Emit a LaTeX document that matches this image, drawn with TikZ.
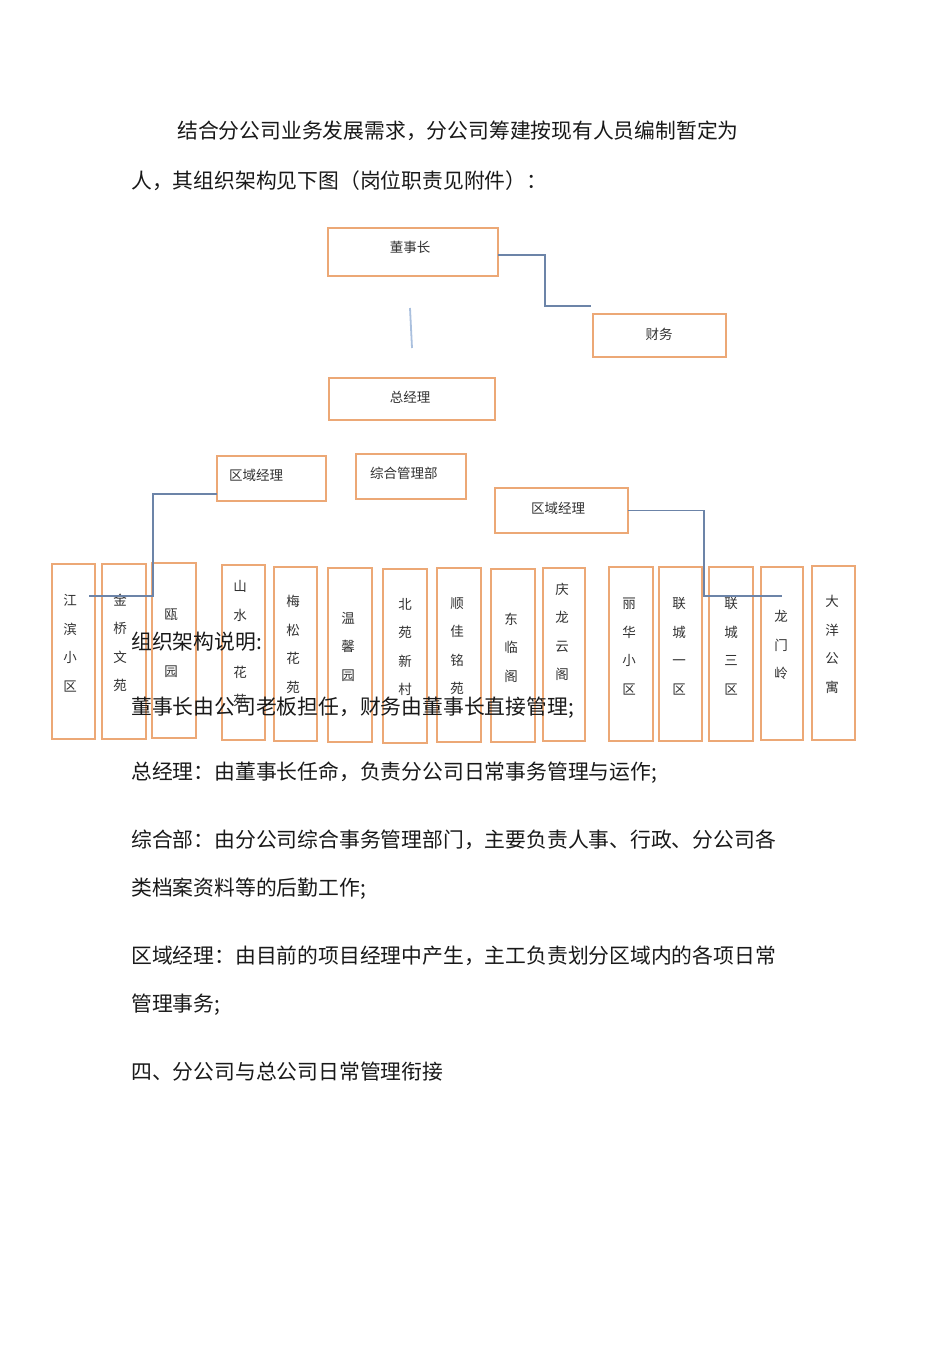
\documentclass[tikz,border=0pt]{standalone}
\usepackage{fontspec}
\newfontfamily\cjk{Noto Sans CJK SC}
\definecolor{boxor}{RGB}{236,168,118}
\definecolor{conn}{RGB}{108,132,168}
\definecolor{connlt}{RGB}{170,192,222}
\definecolor{txt}{RGB}{25,25,25}
\definecolor{btxt}{RGB}{50,50,50}
\newcommand\obx[5]{\node[obox, anchor=north west, minimum width={(#4-#2)*1pt}, minimum height={(#5-#3)*1pt}] (#1) at (#2,#3) {};}
\begin{document}
\begin{tikzpicture}[x=1pt,y=-1pt,
 obox/.style={draw=boxor, line width=1.3pt, inner sep=0pt, outer sep=0pt},
 para/.style={anchor=west, inner sep=0pt, font=\cjk\fontsize{20.8}{20.8}\selectfont, text=txt},
 blabel/.style={inner sep=0pt, font=\cjk\fontsize{13.5}{13.5}\selectfont, text=btxt},
 vlabel/.style={inner sep=0pt, align=center, font=\cjk\fontsize{13.5}{28.5}\selectfont, text=btxt},
 link/.style={draw=conn, line width=1.8pt},
 linklt/.style={draw=connlt, line width=1.8pt},
]
\useasboundingbox[fill=white] (0,0) rectangle (950,1345);

% top boxes
\obx{chair}{328}{228}{498}{276}
\node[blabel] (chairt) at (410,247) {董事长};
\obx{fin}{593}{314}{726}{357}
\node[blabel] (fint) at (659,334) {财务};
\obx{gm}{329}{378}{495}{420}
\node[blabel] (gmt) at (410,397) {总经理};
\obx{rm1}{217}{456}{326}{501}
\node[blabel, anchor=west] (rm1t) at (229,475) {区域经理};
\obx{adm}{356}{454}{466}{499}
\node[blabel, anchor=west] (admt) at (370,473) {综合管理部};
\obx{rm2}{495}{488}{628}{533}
\node[blabel] (rm2t) at (558,508) {区域经理};

% vertical boxes
\obx{jb}{52}{564}{95}{739}
\node[vlabel] (jbt) at (70,643) {江\\滨\\小\\区};
\obx{jq}{102}{564}{146}{739}
\node[vlabel] (jqt) at (120,643) {金\\桥\\文\\苑};
\obx{oy}{152}{563}{196}{738}
\node[vlabel] (oyt) at (171,643) {瓯\\\mbox{}\\园};
\obx{ss}{222}{565}{265}{740}
\node[vlabel] (sst) at (240,643.5) {山\\水\\\mbox{}\\花\\苑};
\obx{ms}{274}{567}{317}{741}
\node[vlabel] (mst) at (293,644.5) {梅\\松\\花\\苑};
\obx{wx}{328}{568}{372}{742}
\node[vlabel] (wxt) at (348,646.5) {温\\馨\\园};
\obx{by}{383}{569}{427}{743}
\node[vlabel] (byt) at (405,647) {北\\苑\\新\\村};
\obx{sj}{437}{568}{481}{742}
\node[vlabel] (sjt) at (457,646) {顺\\佳\\铭\\苑};
\obx{dl}{491}{569}{535}{742}
\node[vlabel] (dlt) at (511,647.5) {东\\临\\阁};
\obx{ql}{543}{568}{585}{741}
\node[vlabel] (qlt) at (562,632) {庆\\龙\\云\\阁};
\obx{lh}{609}{567}{653}{741}
\node[vlabel] (lht) at (629,646.5) {丽\\华\\小\\区};
\obx{lc1}{659}{567}{702}{741}
\node[vlabel] (lc1t) at (679,646.5) {联\\城\\一\\区};
\obx{lc3}{709}{567}{753}{741}
\node[vlabel] (lc3t) at (731,646.5) {联\\城\\三\\区};
\obx{lm}{761}{567}{803}{740}
\node[vlabel] (lmt) at (781,645) {龙\\门\\岭};
\obx{dy}{812}{566}{855}{740}
\node[vlabel] (dyt) at (832,644.5) {大\\洋\\公\\寓};

% connectors
\coordinate (fa) at (545,306);
\coordinate (fend) at (591,306);
\draw[link] ([yshift=-3pt]chair.east) -| (fa) -- (fend);
\coordinate (va) at (410,308);
\coordinate (vb) at (412,348);
\draw[linklt] (va) -- (vb);
\coordinate (lj) at (153,596);
\coordinate (jbend) at (89,596);
\draw[link] ([yshift=-15.5pt]rm1.west) -| (lj) -- (jbend);
\coordinate (rj) at (704,596);
\coordinate (rend) at (782,596);
\draw[link] (rm2.east) -| (rj) -- (rend);

% paragraphs
\node[para] (p1) at (177,131) {结合分公司业务发展需求，分公司筹建按现有人员编制暂定为};
\node[para] (p2) at (131,181) {人，其组织架构见下图（岗位职责见附件）：};
\node[para] (p3) at (131,642) {组织架构说明:};
\node[para] (p4) at (131,708) {董事长由公司老板担任，财务由董事长直接管理;};
\node[para] (p5) at (131,773) {总经理：由董事长任命，负责分公司日常事务管理与运作;};
\node[para] (p6) at (131,840) {综合部：由分公司综合事务管理部门，主要负责人事、行政、分公司各};
\node[para] (p7) at (131,889) {类档案资料等的后勤工作;};
\node[para] (p8) at (131,956) {区域经理：由目前的项目经理中产生，主工负责划分区域内的各项日常};
\node[para] (p9) at (131,1005) {管理事务;};
\node[para] (p10) at (131,1072) {四、分公司与总公司日常管理衔接};
\end{tikzpicture}
\end{document}
